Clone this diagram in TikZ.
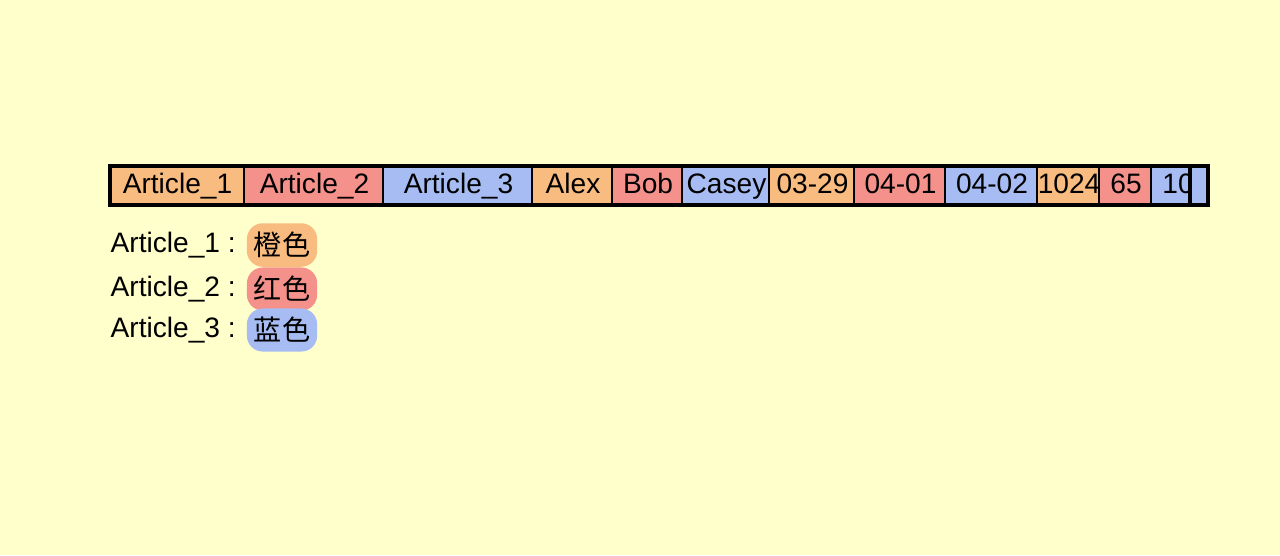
\documentclass[tikz,border=0pt]{standalone}
\usepackage{fontspec}
\setmainfont{Liberation Sans}
\newfontfamily\cjk{Noto Sans CJK SC}
\usepackage{xcolor}
\usepackage{tikz}
\definecolor{paper}{HTML}{FFFFCC}
\definecolor{orng}{HTML}{F9BC80}
\definecolor{rd}{HTML}{F4918A}
\definecolor{blu}{HTML}{A6BCF2}
\tikzset{
  cell/.style={inner sep=0pt,text height=11.5pt,text depth=3.5pt,
    font=\fontsize{16}{19}\selectfont},
  tag/.style={inner sep=0pt,font=\fontsize{16}{19}\selectfont,anchor=east},
  swatch/.style={rounded corners=9pt,inner xsep=4pt,inner ysep=5pt,
    font=\cjk\fontsize{16}{19}\selectfont}
}
\begin{document}
\begin{tikzpicture}[x=0.02cm,y=-0.02cm]
\fill[paper](0,0)rectangle(1280,555);
\useasboundingbox(0,0)rectangle(1280,555);
% the row of cells
\foreach \l/\r/\t/\c [count=\i] in {110/245/Article\_1/orng,245/384/Article\_2/rd,
  384/533/Article\_3/blu,533/613/Alex/orng,613/683/Bob/rd,683/770/Casey/blu,
  770/855/03-29/orng,855/946/04-01/rd,946/1038/04-02/blu,1038/1100/1024/orng,
  1100/1152/65/rd}{
  \fill[\c](\l,167)rectangle(\r,204);
  \draw[line width=1.8pt](\r,166)--(\r,206);
  \node[cell](c\i)at({(\l+\r)/2},186){\t};
}
\fill[blu](1152,167)rectangle(1208,204);
\begin{scope}
\clip(1152,160)rectangle(1190,210);
\node[cell,anchor=west](c12)at(1162,186){109};
\end{scope}
\draw[line width=1.8pt](1190,166)--(1190,206);
\draw[line width=2pt](110,166)rectangle(1208,205);
% legend
\node[tag](t1)at(236,245){Article\_1 :};
\node[tag](t2)at(236,289){Article\_2 :};
\node[tag](t3)at(236,330){Article\_3 :};
\node[swatch,fill=orng,anchor=west](s1)at([xshift=6pt]t1.east){橙色};
\node[swatch,fill=rd,anchor=west](s2)at([xshift=6pt]t2.east){红色};
\node[swatch,fill=blu,anchor=west](s3)at([xshift=6pt]t3.east){蓝色};
\end{tikzpicture}
\end{document}
